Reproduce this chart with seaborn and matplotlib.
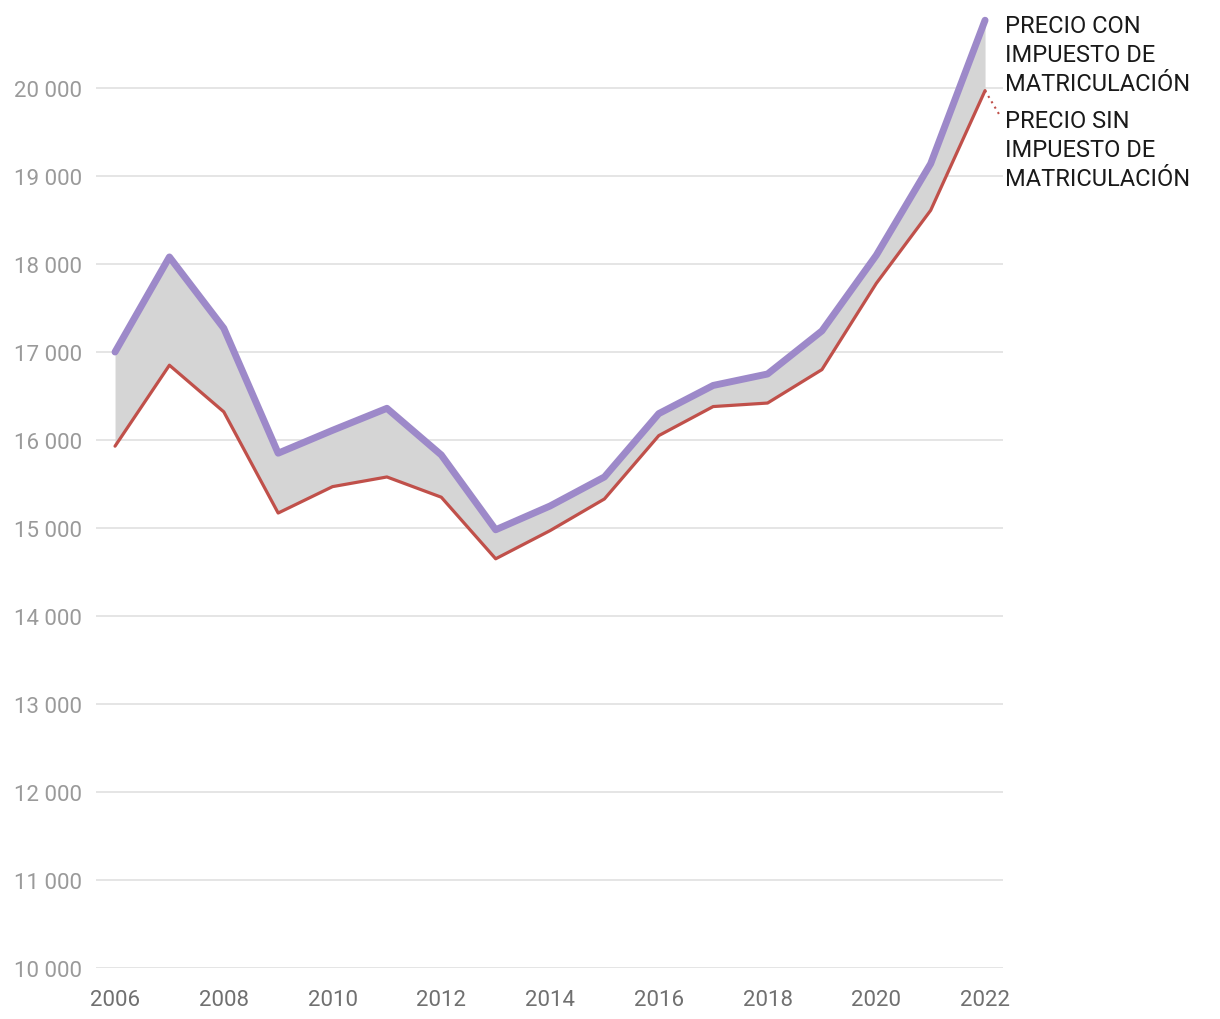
import numpy as np
import pandas as pd
import matplotlib
matplotlib.use("Agg")
import matplotlib.pyplot as plt
import seaborn as sns

# Datos
years = list(range(2006, 2023))
con_impuesto = [17000, 18080, 17270, 15850, 16110, 16360, 15830, 14980, 15250,
                15580, 16300, 16620, 16750, 17240, 18100, 19140, 20770]
sin_impuesto = [15930, 16850, 16320, 15170, 15470, 15580, 15350, 14650, 14970,
                15330, 16050, 16380, 16420, 16800, 17780, 18610, 19970]
y_ticks = list(range(10000, 20001, 1000))
x_ticks = list(range(2006, 2023, 2))
label_con = "PRECIO CON\nIMPUESTO DE\nMATRICULACIÓN"
label_sin = "PRECIO SIN\nIMPUESTO DE\nMATRICULACIÓN"

df = pd.DataFrame({"year": years, "con": con_impuesto, "sin": sin_impuesto})

sns.set_style("white")
plt.rcParams["font.family"] = ["Roboto", "DejaVu Sans"]

fig = plt.figure(figsize=(12.2, 10.2), dpi=100)
ax = fig.add_axes([96 / 1220, 51 / 1020, 907 / 1220, 968 / 1020])

# area between the two series
ax.fill_between(df["year"], df["sin"], df["con"], color="#d5d5d5", linewidth=0, zorder=1)

sns.lineplot(data=df, x="year", y="sin", ax=ax, color="#c0504a", linewidth=2.3,
             zorder=3, solid_capstyle="round")
sns.lineplot(data=df, x="year", y="con", ax=ax, color="#9d89c9", linewidth=5,
             zorder=4, solid_capstyle="round")

ax.set_xlim(2005.65, 2022.33)
ax.set_ylim(10000, 21000)
ax.set_yticks(y_ticks)
ax.set_yticklabels([f"{v:,}".replace(",", " ") for v in y_ticks])
ax.set_xticks(x_ticks)
ax.set_xticklabels([str(v) for v in x_ticks])
ax.tick_params(axis="y", length=0, pad=10, labelsize=16, labelcolor="#9a9a9a")
ax.tick_params(axis="x", length=0, pad=15, labelsize=16, labelcolor="#707070")
ax.grid(axis="y", color="#e3e3e3", linewidth=1.3)
ax.grid(axis="x", visible=False)
ax.set_xlabel("")
ax.set_ylabel("")
for s in ax.spines.values():
    s.set_visible(False)

# labels on the right
ax.text(2022.37, 20840, label_con, fontsize=17, color="#1a1a1a", va="top",
        ha="left", linespacing=1.32, clip_on=False)
ax.text(2022.37, 19760, label_sin, fontsize=17, color="#1a1a1a", va="top",
        ha="left", linespacing=1.32, clip_on=False)
ax.plot([years[-1], 2022.26], [sin_impuesto[-1], 19700], color="#c0504a",
        linestyle=(0, (1, 2)), linewidth=1.5, clip_on=False, zorder=5)

fig.savefig("out.png", dpi=100)
